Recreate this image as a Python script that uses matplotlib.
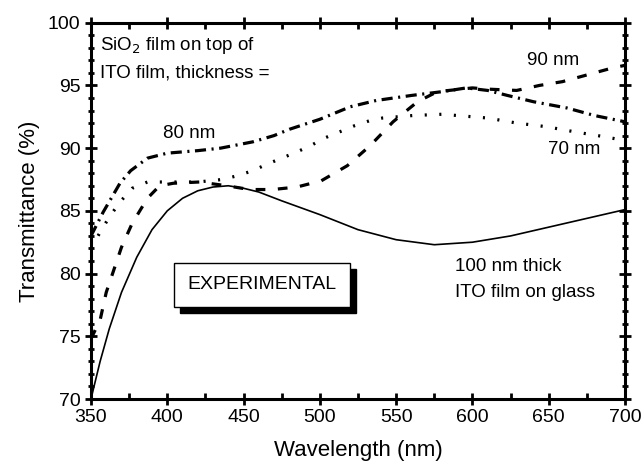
import matplotlib
matplotlib.use("Agg")
import matplotlib.pyplot as plt
from matplotlib.ticker import MultipleLocator
from matplotlib.patches import Rectangle
from matplotlib.transforms import IdentityTransform

plt.rcParams['font.family'] = ['Liberation Sans', 'DejaVu Sans']
plt.rcParams['lines.scale_dashes'] = False

# 100 nm ITO film on glass (solid)
wl_ito = [350, 356, 362, 370, 380, 390, 400, 410, 420, 430, 440, 450, 460, 475,
          500, 525, 550, 575, 600, 625, 650, 675, 700]
t_ito = [70.0, 73.0, 75.6, 78.5, 81.3, 83.5, 85.0, 86.0, 86.6, 86.9, 87.0, 86.8,
         86.5, 85.8, 84.7, 83.5, 82.7, 82.3, 82.5, 83.0, 83.7, 84.4, 85.1]

# 80 nm SiO2 (dash-dot)
wl_80 = [350, 358, 369, 376, 387, 400, 420, 435, 456, 470, 480, 500, 520, 537,
         560, 580, 596, 610, 623, 640, 662, 680, 700]
t_80 = [83.0, 84.9, 87.2, 88.2, 89.2, 89.6, 89.8, 90.0, 90.5, 91.0, 91.5, 92.3,
        93.3, 93.8, 94.2, 94.5, 94.8, 94.6, 94.2, 93.7, 93.2, 92.6, 92.1]

# 70 nm SiO2 (dotted)
wl_70 = [350, 356, 362, 369, 377, 387, 400, 420, 436, 446, 456, 465, 475, 485,
         494, 503, 513, 523, 533, 541, 561, 580, 590, 610, 629, 649, 667, 687, 700]
t_70 = [82.0, 83.3, 84.5, 85.7, 86.8, 87.3, 87.3, 87.3, 87.5, 87.8, 88.2, 88.7,
        89.2, 89.7, 90.2, 90.8, 91.3, 91.8, 92.2, 92.4, 92.6, 92.7, 92.6, 92.4,
        92.0, 91.7, 91.3, 90.9, 90.6]

# 90 nm SiO2 (dashed)
wl_90 = [350, 356, 360, 365, 370, 377, 387, 395, 404, 421, 439, 454, 469, 485,
         501, 518, 533, 548, 564, 577, 600, 611, 629, 644, 659, 677, 692, 700]
t_90 = [74.8, 76.3, 78.5, 80.3, 82.1, 84.0, 86.0, 87.0, 87.2, 87.3, 87.0, 86.7,
        86.7, 86.9, 87.4, 88.6, 90.2, 92.1, 93.7, 94.5, 94.8, 94.7, 94.6, 95.0,
        95.3, 95.9, 96.4, 96.6]

xticks = [350, 400, 450, 500, 550, 600, 650, 700]
yticks = [70, 75, 80, 85, 90, 95, 100]

fig = plt.figure(figsize=(6.42, 4.67), dpi=100)
ax = fig.add_axes([0.1417, 0.1456, 0.8318, 0.8058])

ax.plot(wl_ito, t_ito, color='black', lw=1.2, solid_capstyle='butt')
ax.plot(wl_80, t_80, color='black', lw=2.3, dashes=(8, 4, 1.5, 4))
ax.plot(wl_70, t_70, color='black', lw=2.3, dashes=(1.5, 9))
ax.plot(wl_90, t_90, color='black', lw=2.3, dashes=(7, 9))

ax.set_xlim(350, 700)
ax.set_ylim(70, 100)
ax.set_xticks(xticks)
ax.set_yticks(yticks)
ax.xaxis.set_minor_locator(MultipleLocator(25))
ax.yaxis.set_minor_locator(MultipleLocator(1))

for s in ax.spines.values():
    s.set_linewidth(2.2)

ax.tick_params(axis='both', which='both', labelsize=14, width=2, pad=3)
ax.tick_params(axis='x', which='major', direction='inout', length=9, top=True)
ax.tick_params(axis='x', which='minor', direction='in', length=4, top=True)
ax.tick_params(axis='y', which='major', direction='inout', length=9, right=True)
ax.tick_params(axis='y', which='minor', direction='inout', length=5, right=True)

ax.set_xlabel('Wavelength (nm)', fontsize=16, labelpad=10)
ax.set_ylabel('Transmittance (%)', fontsize=16, labelpad=6)

fs = 13.5
ax.text(356, 98.2, 'SiO$_2$ film on top of', fontsize=fs, va='center', ha='left')
ax.text(356, 96.0, 'ITO film, thickness =', fontsize=fs, va='center', ha='left')
ax.text(397, 91.2, '80 nm', fontsize=fs, va='center', ha='left')
ax.text(636, 97.0, '90 nm', fontsize=fs, va='center', ha='left')
ax.text(649.5, 89.9, '70 nm', fontsize=fs, va='center', ha='left')
ax.text(588.5, 80.6, '100 nm thick', fontsize=fs, va='center', ha='left')
ax.text(588.5, 78.5, 'ITO film on glass', fontsize=fs, va='center', ha='left')

box = ax.text(462, 79.1, 'EXPERIMENTAL', fontsize=14, va='center', ha='center',
              color='black', zorder=5,
              bbox=dict(boxstyle='square,pad=0.7', fc='white', ec='black', lw=1))

fig.canvas.draw()
bb = box.get_bbox_patch().get_window_extent(fig.canvas.get_renderer())
shadow = Rectangle((bb.x0 + 6, bb.y0 - 6), bb.width, bb.height,
                   transform=IdentityTransform(), facecolor='black',
                   edgecolor='black', zorder=4)
ax.add_artist(shadow)

fig.savefig('out.png', dpi=100)
